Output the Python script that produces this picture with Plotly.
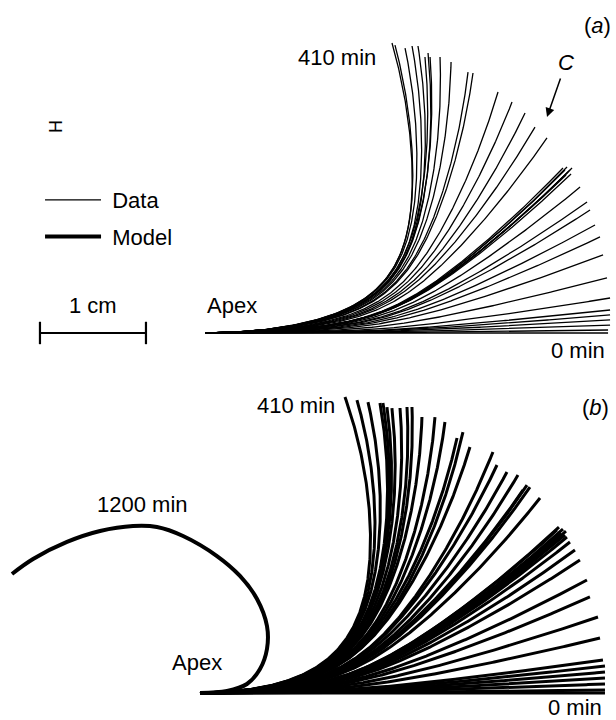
import numpy as np
import plotly.graph_objects as go

# ---------------------------------------------------------------------------
# Profile tips (cm), measured from the apex, listed from 0 min up to 410 min.
# ---------------------------------------------------------------------------
a_tip_x = [3.802, 3.802, 3.821, 3.821, 3.821, 3.821, 3.821, 3.792, 3.755, 3.726,
           3.679, 3.632, 3.604, 3.538, 3.406, 3.462, 3.453, 3.443, 3.425, 3.415,
           3.396, 3.377, 3.226, 3.113, 3.019, 2.896, 2.764, 2.528, 2.481, 2.321,
           2.217, 2.123, 2.104, 2.075, 2.009, 1.953, 1.887, 1.792, 1.764]
a_tip_y = [0.000, 0.028, 0.075, 0.123, 0.170, 0.217, 0.330, 0.519, 0.736, 0.906,
           1.019, 1.160, 1.236, 1.377, 1.491, 1.557, 1.500, 1.538, 1.519, 1.566,
           1.538, 1.557, 1.840, 1.943, 2.075, 2.179, 2.274, 2.453, 2.462, 2.557,
           2.604, 2.604, 2.642, 2.604, 2.708, 2.708, 2.689, 2.717, 2.736]

b_tip_x = [3.821, 3.821, 3.821, 3.821, 3.821, 3.821, 3.802, 3.774, 3.755, 3.679,
           3.651, 3.585, 3.538, 3.491, 3.462, 3.453, 3.443, 3.425, 3.406, 3.387,
           3.368, 3.208, 3.113, 3.085, 3.047, 3.000, 2.896, 2.802, 2.764, 2.547,
           2.481, 2.425, 2.311, 2.217, 2.094, 2.000, 1.953, 1.887, 1.811, 1.764,
           1.726, 1.698, 1.585, 1.481, 1.368]
b_tip_y = [0.000, 0.028, 0.085, 0.142, 0.198, 0.255, 0.311, 0.519, 0.717, 0.906,
           1.066, 1.255, 1.349, 1.425, 1.472, 1.528, 1.491, 1.547, 1.509, 1.566,
           1.538, 1.840, 1.943, 1.962, 1.915, 2.057, 2.085, 2.151, 2.274, 2.321,
           2.462, 2.406, 2.557, 2.604, 2.604, 2.698, 2.698, 2.689, 2.689, 2.698,
           2.736, 2.736, 2.745, 2.764, 2.792]

# Model profile extrapolated to 1200 min (cm, apex at origin)
m1200_x = [0.000, 0.255, 0.443, 0.566, 0.632, 0.632, 0.538, 0.377, 0.160, -0.160,
           -0.406, -0.632, -0.943, -1.255, -1.575, -1.774]
m1200_y = [0.000, 0.019, 0.085, 0.226, 0.415, 0.632, 0.887, 1.104, 1.292, 1.481,
           1.566, 1.575, 1.528, 1.425, 1.264, 1.123]

SCALE_BAR_CM = 1.0

FONT = "Liberation Sans, Arial, Helvetica, sans-serif"
N = 240
u = np.linspace(0.0, 1.0, N)
du = u[1] - u[0]


def bend_profile(u0, w, c):
    """Fraction of the total turning reached along the normalised length."""
    sig = lambda t: 1.0 / (1.0 + np.exp(-t))
    s = sig((u - u0) / w)
    s0, s1 = sig(-u0 / w), sig((1 - u0) / w)
    return (1 - c) * (s - s0) / (s1 - s0) + c * u


def integrate(theta, G):
    ang = theta * G
    cx, sy = np.cos(ang), np.sin(ang)
    x = np.concatenate([[0.0], np.cumsum(0.5 * (cx[1:] + cx[:-1]) * du)])
    y = np.concatenate([[0.0], np.cumsum(0.5 * (sy[1:] + sy[:-1]) * du)])
    return x, y


def profile_to_tip(tx, ty, G):
    """Curve leaving the apex horizontally and ending at (tx, ty)."""
    target = np.arctan2(ty, tx)
    lo, hi = 0.0, 3.0
    for _ in range(50):
        mid = 0.5 * (lo + hi)
        x, y = integrate(mid, G)
        if np.arctan2(y[-1], x[-1]) < target:
            lo = mid
        else:
            hi = mid
    x, y = integrate(0.5 * (lo + hi), G)
    k = np.hypot(tx, ty) / np.hypot(x[-1], y[-1])
    return x * k, y * k


G_a = bend_profile(0.44, 0.07, 0.42)
G_b = bend_profile(0.36, 0.08, 0.46)

fig = go.Figure()

# (a) measured profiles
for i, (tx, ty) in enumerate(zip(a_tip_x, a_tip_y)):
    x, y = profile_to_tip(tx, ty, G_a)
    fig.add_trace(go.Scatter(x=x, y=y, mode="lines", xaxis="x", yaxis="y",
                             line=dict(color="black", width=1.3),
                             name="\u00a0Data", showlegend=(i == 0),
                             legendgroup="data", hoverinfo="skip"))

# scale bar
fig.add_trace(go.Scatter(x=[-1.557, -1.557 + SCALE_BAR_CM], y=[0.0, 0.0],
                         mode="lines+markers", xaxis="x", yaxis="y",
                         line=dict(color="black", width=2.2),
                         marker=dict(symbol="line-ns", size=16,
                                     line=dict(color="black", width=2.2)),
                         showlegend=False, hoverinfo="skip"))

# (b) model profiles
for tx, ty in zip(b_tip_x, b_tip_y):
    x, y = profile_to_tip(tx, ty, G_b)
    fig.add_trace(go.Scatter(x=x, y=y, mode="lines", xaxis="x2", yaxis="y2",
                             line=dict(color="black", width=3.0),
                             showlegend=False, hoverinfo="skip"))

fig.add_trace(go.Scatter(x=m1200_x, y=m1200_y, mode="lines", xaxis="x2", yaxis="y2",
                         line=dict(color="black", width=4.0, shape="spline"),
                         name="\u00a0Model", showlegend=True, legendgroup="model",
                         hoverinfo="skip"))

ax_common = dict(visible=False, showgrid=False, zeroline=False, fixedrange=True)

txt = dict(showarrow=False, font=dict(family=FONT, size=22, color="black"))
annotations = [
    # panel (a)
    dict(x=3.698, y=2.906, xref="x", yref="y", text="(<i>a</i>)", **txt),
    dict(x=1.245, y=2.604, xref="x", yref="y", text="410 min", **txt),
    dict(x=3.519, y=-0.170, xref="x", yref="y", text="0 min", **txt),
    dict(x=0.255, y=0.255, xref="x", yref="y", text="Apex", **txt),
    dict(x=-1.057, y=0.255, xref="x", yref="y", text="1 cm", **txt),
    dict(x=3.406, y=2.557, xref="x", yref="y", text="<i>C</i>", **txt),
    dict(x=3.226, y=2.038, xref="x", yref="y", text="", showarrow=True,
         ax=14, ay=-40, arrowhead=2, arrowsize=1.2, arrowwidth=1.5,
         arrowcolor="black"),
    dict(x=-1.415, y=1.953, xref="x", yref="y", text="H", textangle=90,
         showarrow=False, font=dict(family=FONT, size=18, color="black")),
    # panel (b)
    dict(x=3.736, y=2.698, xref="x2", yref="y2", text="(<i>b</i>)", **txt),
    dict(x=0.906, y=2.717, xref="x2", yref="y2", text="410 min", **txt),
    dict(x=3.538, y=-0.135, xref="x2", yref="y2", text="0 min", **txt),
    dict(x=-0.547, y=1.774, xref="x2", yref="y2", text="1200 min", **txt),
    dict(x=-0.028, y=0.283, xref="x2", yref="y2", text="Apex", **txt),
]

fig.update_layout(
    width=616, height=720,
    margin=dict(l=0, r=0, t=0, b=0),
    paper_bgcolor="white", plot_bgcolor="white",
    xaxis=dict(domain=[0, 1], range=[-1.934, 3.877], **ax_common),
    yaxis=dict(domain=[0.5, 1], range=[-0.255, 3.142], **ax_common),
    xaxis2=dict(domain=[0, 1], range=[-1.887, 3.925], anchor="y2", **ax_common),
    yaxis2=dict(domain=[0, 0.5], range=[-0.255, 3.142], anchor="x2", **ax_common),
    annotations=annotations,
    showlegend=True,
    legend=dict(x=0.065, y=1 - 179 / 720, xanchor="left", yanchor="top",
                bgcolor="rgba(0,0,0,0)", itemwidth=56, tracegroupgap=5,
                traceorder="grouped",
                font=dict(family=FONT, size=22, color="black")),
)

fig.write_html("out.html")
